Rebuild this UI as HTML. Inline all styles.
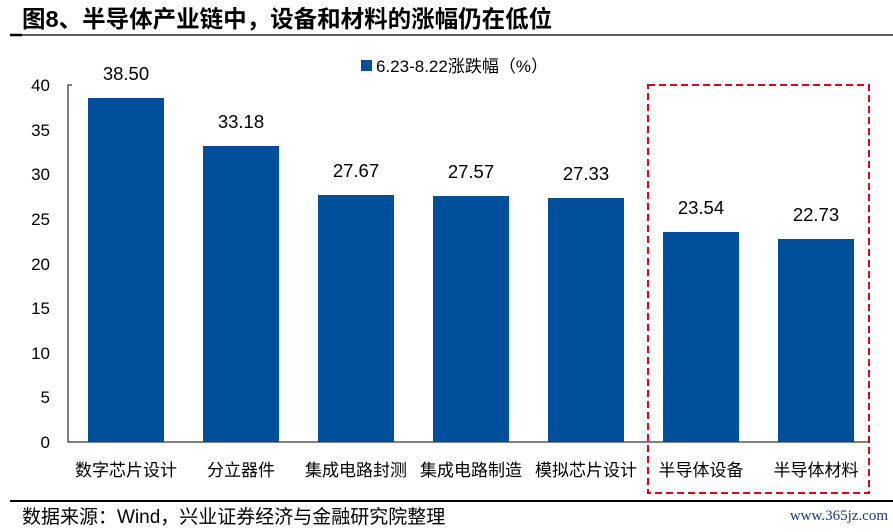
<!DOCTYPE html>
<html><head><meta charset="utf-8"><style>
body{margin:0;width:893px;height:527px;background:#fff;overflow:hidden;font-family:"Liberation Sans","Noto Sans CJK SC",sans-serif;}
</style></head><body>
<svg width="893" height="527" xmlns="http://www.w3.org/2000/svg" font-family="Liberation Sans, Noto Sans CJK SC, sans-serif">
<text x="22" y="27" font-size="23.5" font-weight="bold" fill="#000">图8、半导体产业链中，设备和材料的涨幅仍在低位</text>
<line x1="10" y1="35" x2="893" y2="35" stroke="#000" stroke-width="1.2"/>
<line x1="10" y1="35" x2="22" y2="35" stroke="#000" stroke-width="2.5"/>
<rect x="361" y="60" width="11" height="11" fill="#004f9a"/>
<text x="376" y="72" font-size="17" fill="#000">6.23-8.22涨跌幅（%）</text>
<g font-size="17" fill="#000" text-anchor="end">
<text x="50" y="448">0</text><text x="50" y="403">5</text><text x="50" y="359">10</text><text x="50" y="314">15</text><text x="50" y="270">20</text><text x="50" y="225">25</text><text x="50" y="180">30</text><text x="50" y="136">35</text><text x="50" y="91">40</text>
</g>
<polyline points="72,85 68,85 68,442 870,442" fill="none" stroke="#000" stroke-width="1"/>
<g fill="#004f9a">
<rect x="88" y="98" width="76" height="344"/>
<rect x="203" y="146" width="76" height="296"/>
<rect x="318" y="195" width="76" height="247"/>
<rect x="433" y="196" width="76" height="246"/>
<rect x="548" y="198" width="76" height="244"/>
<rect x="663" y="232" width="76" height="210"/>
<rect x="778" y="239" width="76" height="203"/>
</g>
<g font-size="18.5" fill="#000" text-anchor="middle">
<text x="126" y="80">38.50</text><text x="241" y="128">33.18</text><text x="356" y="177">27.67</text><text x="471" y="178">27.57</text><text x="586" y="180">27.33</text><text x="701" y="214">23.54</text><text x="816" y="221">22.73</text>
</g>
<g font-size="17" fill="#000" text-anchor="middle">
<text x="126" y="476">数字芯片设计</text><text x="241" y="476">分立器件</text><text x="356" y="476">集成电路封测</text><text x="471" y="476">集成电路制造</text><text x="586" y="476">模拟芯片设计</text><text x="701" y="476">半导体设备</text><text x="816" y="476">半导体材料</text>
</g>
<rect x="648" y="85" width="221" height="408" fill="none" stroke="#e0001b" stroke-width="2" stroke-dasharray="7,4"/>
<line x1="10" y1="501" x2="893" y2="501" stroke="#000" stroke-width="2"/>
<text x="22" y="523" font-size="19" fill="#000">数据来源：Wind，兴业证券经济与金融研究院整理</text>
<text x="888" y="520" font-size="15" fill="#1a3d7a" text-anchor="end" font-family="Liberation Serif, serif">www.365jz.com</text>
</svg>
</body></html>
